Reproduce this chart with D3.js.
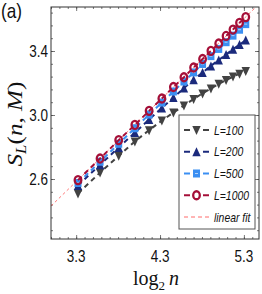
<!DOCTYPE html>
<html>
<head>
<meta charset="utf-8">
<script src="https://cdn.jsdelivr.net/npm/d3@7"></script>
<style>
  body { margin: 0; background: #fff; }
  svg { display: block; }
</style>
</head>
<body>
<svg id="chart" width="262" height="294"></svg>
<script>
"use strict";

// system sizes n, plotted as log2 n
const sizes = [10, 12, 14, 16, 18, 20, 22, 24, 26, 28, 30, 32, 34, 36, 38, 40];

// S_L(n, M)
const sL100  = [2.51, 2.64, 2.745, 2.835, 2.905, 2.965, 3.015, 3.06, 3.10, 3.135, 3.165, 3.195, 3.218, 3.24, 3.258, 3.275];
const sL200  = [2.56, 2.689, 2.797, 2.89, 2.972, 3.044, 3.109, 3.168, 3.221, 3.266, 3.307, 3.344, 3.378, 3.411, 3.44, 3.468];
const sL500  = [2.575, 2.708, 2.82, 2.917, 3.003, 3.078, 3.147, 3.209, 3.266, 3.319, 3.368, 3.413, 3.455, 3.496, 3.533, 3.568];
const sL1000 = [2.593, 2.728, 2.843, 2.938, 3.026, 3.103, 3.175, 3.236, 3.297, 3.350, 3.401, 3.447, 3.494, 3.534, 3.576, 3.612];

const seriesNames = ["L=100", "L=200", "L=500", "L=1000"];
const fitName = "linear fit";

// linear fit S = a + b log2 n
const fitIntercept = 0.904,
  fitSlope = 0.509;

const xTicks = [3.3, 4.3, 5.3];
const yTicks = [2.6, 3.0, 3.4];

const colors = ["#424242", "#1b2a7c", "#3b8ff2", "#a50f38"],
  fitColor = "#ff6b6b",
  shapes = ["down", "up", "square", "circle"];

let svg = d3.select("#chart"),
  margin = {top: 7, right: 3, bottom: 55, left: 51},
  width = 262 - margin.left - margin.right,
  height = 294 - margin.top - margin.bottom,
  g = svg.append("g").attr("transform", "translate(" + margin.left + "," + margin.top + ")"),
  x = d3.scaleLinear().domain([3.0, 5.48]).range([0, width]),
  y = d3.scaleLinear().domain([2.225, 3.675]).range([height, 0]),
  sans = "'Liberation Sans', Arial, Helvetica, sans-serif",
  serif = "'Liberation Serif', 'Times New Roman', serif"
;

svg.append("defs").append("clipPath").attr("id", "plotClip")
  .append("rect").attr("width", width).attr("height", height);

// ticks on all four sides, pointing inward
let xMinor = d3.range(30, 55).map(function(v) { return v / 10; }),
  yMinor = d3.range(-4, 14).map(function(k) { return +(2.6 + k * 0.08).toFixed(2); })
    .filter(function(v) { return v > 2.225 && v < 3.675; })
;

function tickAxis(axis, values, size, transform) {
  g.append("g")
    .attr("transform", transform)
    .call(axis.tickValues(values).tickSize(-size).tickFormat(""))
    .call(function(s) { s.select(".domain").remove(); })
    .selectAll("line").attr("stroke", "#555").attr("stroke-width", 0.8);
}

tickAxis(d3.axisBottom(x), xMinor, 2, "translate(0," + height + ")");
tickAxis(d3.axisBottom(x), xTicks, 4, "translate(0," + height + ")");
tickAxis(d3.axisTop(x), xMinor, 2, "translate(0,0)");
tickAxis(d3.axisTop(x), xTicks, 4, "translate(0,0)");
tickAxis(d3.axisLeft(y), yMinor, 2, "translate(0,0)");
tickAxis(d3.axisLeft(y), yTicks, 4, "translate(0,0)");
tickAxis(d3.axisRight(y), yMinor, 2, "translate(" + width + ",0)");
tickAxis(d3.axisRight(y), yTicks, 4, "translate(" + width + ",0)");

// tick labels (narrow, tall glyphs like the original)
g.selectAll(".xlab")
  .data(xTicks)
  .enter().append("text")
    .attr("transform", function(d) { return "translate(" + x(d) + "," + (height + 23) + ") scale(0.82,1)"; })
    .attr("text-anchor", "middle")
    .attr("font-family", sans)
    .attr("font-size", 16.5)
    .attr("fill", "#111")
    .text(function(d) { return d.toFixed(1); });

g.selectAll(".ylab")
  .data(yTicks)
  .enter().append("text")
    .attr("transform", function(d) { return "translate(-3," + (y(d) + 6) + ") scale(0.82,1)"; })
    .attr("text-anchor", "end")
    .attr("font-family", sans)
    .attr("font-size", 16.5)
    .attr("fill", "#111")
    .text(function(d) { return d.toFixed(1); });

// fit line
let plot = g.append("g").attr("clip-path", "url(#plotClip)");

plot.append("line")
  .attr("x1", x(3.0)).attr("y1", y(fitIntercept + fitSlope * 3.0))
  .attr("x2", x(5.48)).attr("y2", y(fitIntercept + fitSlope * 5.48))
  .attr("stroke", fitColor)
  .attr("stroke-width", 0.9)
  .attr("stroke-dasharray", "3,2.5");

function marker(sel, shape, color) {
  if (shape === "down") {
    sel.append("path").attr("d", "M-4.2,-4L4.2,-4L0,5Z").attr("fill", color);
  } else if (shape === "up") {
    sel.append("path").attr("d", "M-4.2,4.5L4.2,4.5L0,-4.5Z").attr("fill", color);
  } else if (shape === "square") {
    sel.append("rect").attr("x", -3.5).attr("y", -4).attr("width", 7).attr("height", 8).attr("fill", color);
    sel.append("line").attr("x1", -1.5).attr("x2", 1.5).attr("stroke", "#cfe4ff").attr("stroke-width", 0.8);
  } else {
    sel.append("ellipse").attr("rx", 3.3).attr("ry", 4)
      .attr("fill", "none").attr("stroke", color).attr("stroke-width", 2.3);
  }
}

let allSeries = [sL100, sL200, sL500, sL1000],
  line = d3.line()
    .x(function(d, i) { return x(Math.log2(sizes[i])); })
    .y(function(d) { return y(d); })
;

allSeries.forEach(function(values, k) {
  plot.append("path")
    .datum(values)
    .attr("d", line)
    .attr("fill", "none")
    .attr("stroke", colors[k])
    .attr("stroke-width", 2)
    .attr("stroke-dasharray", "5,4");

  plot.selectAll(".m" + k)
    .data(values)
    .enter().append("g")
      .attr("transform", function(d, i) { return "translate(" + x(Math.log2(sizes[i])) + "," + y(d) + ")"; })
      .each(function() { marker(d3.select(this), shapes[k], colors[k]); });
});

// frame
g.append("rect")
  .attr("width", width).attr("height", height)
  .attr("fill", "none")
  .attr("stroke", "#333")
  .attr("stroke-width", 1);

// legend
let legend = svg.append("g").attr("transform", "translate(179,115)");

legend.append("rect")
  .attr("width", 76).attr("height", 114)
  .attr("fill", "#fff")
  .attr("stroke", "#555")
  .attr("stroke-width", 1);

seriesNames.forEach(function(name, k) {
  let row = legend.append("g").attr("transform", "translate(0," + (15 + k * 21.75) + ")");
  row.append("line").attr("x1", 5).attr("x2", 11).attr("stroke", colors[k]).attr("stroke-width", 2);
  row.append("line").attr("x1", 24).attr("x2", 30).attr("stroke", colors[k]).attr("stroke-width", 2);
  marker(row.append("g").attr("transform", "translate(17.5,0)"), shapes[k], colors[k]);
  row.append("text")
    .attr("transform", "translate(35,4.5) scale(0.8,1)")
    .attr("font-family", sans)
    .attr("font-style", "italic")
    .attr("font-size", 13)
    .attr("fill", "#111")
    .text(name);
});

let fitRow = legend.append("g").attr("transform", "translate(0," + (15 + 4 * 21.75) + ")");
fitRow.append("line")
  .attr("x1", 5).attr("x2", 31)
  .attr("stroke", fitColor)
  .attr("stroke-width", 1)
  .attr("stroke-dasharray", "4,3");
fitRow.append("text")
  .attr("transform", "translate(35,4.5) scale(0.8,1)")
  .attr("font-family", sans)
  .attr("font-style", "italic")
  .attr("font-size", 13)
  .attr("fill", "#111")
  .text(fitName);

// panel letter
svg.append("text")
  .attr("transform", "translate(1,18) scale(0.82,1)")
  .attr("font-family", sans)
  .attr("font-size", 21)
  .attr("fill", "#111")
  .text("(a)");

// axis titles
let xTitle = svg.append("text")
  .attr("x", 156).attr("y", 285)
  .attr("text-anchor", "middle")
  .attr("font-family", serif)
  .attr("font-size", 20)
  .attr("fill", "#111");
xTitle.append("tspan").text("log");
xTitle.append("tspan").attr("font-size", 13).attr("dy", 5).text("2");
xTitle.append("tspan").attr("dy", -5).attr("font-style", "italic").text("\u2009n");

let yTitle = svg.append("text")
  .attr("transform", "translate(22,124) rotate(-90) scale(1.2,1)")
  .attr("text-anchor", "middle")
  .attr("font-family", serif)
  .attr("font-style", "italic")
  .attr("font-size", 21)
  .attr("fill", "#111");
yTitle.append("tspan").text("S");
yTitle.append("tspan").attr("font-size", 14).attr("dy", 4).text("L");
yTitle.append("tspan").attr("dy", -4).attr("font-style", "normal").text("(");
yTitle.append("tspan").text("n");
yTitle.append("tspan").attr("font-style", "normal").text(", ");
yTitle.append("tspan").text("M");
yTitle.append("tspan").attr("font-style", "normal").text(")");
</script>
</body>
</html>
